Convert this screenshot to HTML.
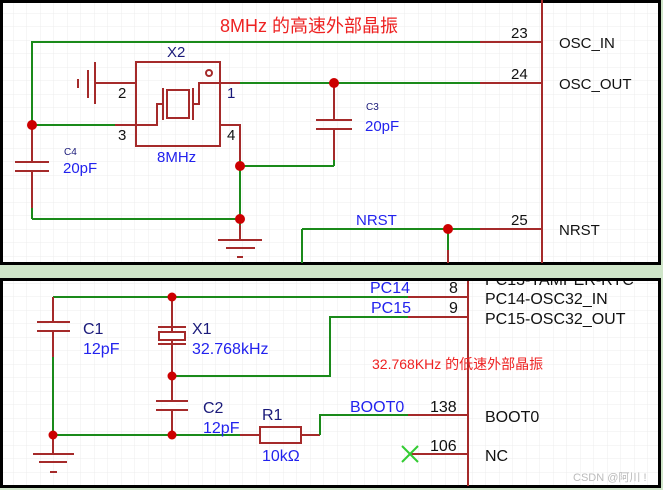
<!DOCTYPE html>
<html><head><meta charset="utf-8"><style>
body{margin:0;background:#cfe5c9;width:663px;height:490px;overflow:hidden}
svg{display:block;font-family:"Liberation Sans","Noto Sans CJK SC",sans-serif}
</style></head><body>
<svg width="663" height="490" viewBox="0 0 663 490">
<defs><pattern id="g" width="13.5" height="13.5" patternUnits="userSpaceOnUse"><path d="M13.5 0V13.5H0" fill="none" stroke="#ececec" stroke-width="1"/></pattern>
<clipPath id="bc"><rect x="3" y="281" width="655" height="204"/></clipPath></defs>
<rect x="0" y="0" width="663" height="490" fill="#cfe5c9"/>
<rect x="1.5" y="1.5" width="658" height="262" fill="#fff" stroke="#000" stroke-width="3"/>
<rect x="3" y="3" width="655" height="259" fill="url(#g)"/>
<rect x="1.5" y="279.5" width="658" height="207" fill="#fff" stroke="#000" stroke-width="3"/>
<rect x="3" y="281" width="655" height="204" fill="url(#g)"/>
<g stroke-width="2" fill="none">
<!-- top -->
<line x1="542" y1="0" x2="542" y2="263" stroke="#a52a2a"/>
<polyline points="32,219 32,42 480,42" stroke="#1a8a1a"/>
<line x1="480" y1="42" x2="542" y2="42" stroke="#a52a2a"/>
<line x1="240" y1="83" x2="480" y2="83" stroke="#1a8a1a"/>
<line x1="480" y1="83" x2="542" y2="83" stroke="#a52a2a"/>
<line x1="302" y1="229" x2="480" y2="229" stroke="#1a8a1a"/>
<line x1="302" y1="229" x2="302" y2="263" stroke="#1a8a1a"/>
<line x1="448" y1="229" x2="448" y2="250" stroke="#1a8a1a"/>
<line x1="448" y1="250" x2="448" y2="263" stroke="#a52a2a"/>
<line x1="480" y1="229" x2="542" y2="229" stroke="#a52a2a"/>
<line x1="32" y1="125" x2="115" y2="125" stroke="#1a8a1a"/>
<rect x="136" y="62" width="84" height="84" stroke="#a52a2a"/>
<line x1="95" y1="83" x2="136" y2="83" stroke="#a52a2a"/>
<line x1="95" y1="62" x2="95" y2="104" stroke="#a52a2a"/>
<line x1="88" y1="70" x2="88" y2="98" stroke="#a52a2a"/>
<line x1="78" y1="79" x2="78" y2="88" stroke="#a52a2a"/>
<line x1="115" y1="125" x2="136" y2="125" stroke="#a52a2a"/>
<line x1="220" y1="83" x2="240" y2="83" stroke="#a52a2a"/>
<polyline points="220,125 240,125 240,160" stroke="#a52a2a"/>
<polyline points="240,160 240,240" stroke="#1a8a1a"/>
<line x1="240" y1="166" x2="334" y2="166" stroke="#1a8a1a"/>
<line x1="32" y1="219" x2="240" y2="219" stroke="#1a8a1a"/>
<line x1="240" y1="225" x2="240" y2="240" stroke="#a52a2a"/>
<line x1="218" y1="240" x2="262" y2="240" stroke="#a52a2a"/>
<line x1="226" y1="248" x2="255" y2="248" stroke="#a52a2a"/>
<line x1="237" y1="257" x2="243" y2="257" stroke="#a52a2a"/>
<rect x="167" y="90" width="22" height="28" stroke="#a52a2a"/>
<line x1="163" y1="88" x2="163" y2="120" stroke="#a52a2a"/>
<line x1="193" y1="88" x2="193" y2="120" stroke="#a52a2a"/>
<polyline points="163,104 157,104 157,125 136,125" stroke="#a52a2a"/>
<polyline points="193,104 199,104 199,83 220,83" stroke="#a52a2a"/>
<circle cx="209" cy="73" r="3" stroke="#a52a2a"/>
<polyline points="334,83 334,120" stroke="#a52a2a"/>
<polyline points="334,129 334,160" stroke="#a52a2a"/>
<line x1="334" y1="160" x2="334" y2="166" stroke="#1a8a1a"/>
<line x1="316" y1="120" x2="352" y2="120" stroke="#a52a2a"/>
<line x1="316" y1="129" x2="352" y2="129" stroke="#a52a2a"/>
<line x1="32" y1="125" x2="32" y2="208" stroke="#a52a2a"/>
<line x1="15" y1="162" x2="49" y2="162" stroke="#a52a2a"/>
<line x1="15" y1="171" x2="49" y2="171" stroke="#a52a2a"/>
<rect x="28" y="163" width="8" height="7" fill="#fff" stroke="none"/>
<!-- bottom -->
<line x1="468" y1="281" x2="468" y2="486" stroke="#a52a2a"/>
<line x1="53" y1="297" x2="408" y2="297" stroke="#1a8a1a"/>
<line x1="408" y1="297" x2="468" y2="297" stroke="#a52a2a"/>
<polyline points="408,317 330,317 330,376 172,376" stroke="#1a8a1a"/>
<line x1="408" y1="317" x2="468" y2="317" stroke="#a52a2a"/>
<line x1="172" y1="297" x2="172" y2="435" stroke="#a52a2a"/>
<line x1="158" y1="327" x2="186" y2="327" stroke="#a52a2a"/>
<line x1="158" y1="344" x2="186" y2="344" stroke="#a52a2a"/>
<rect x="159" y="332" width="26" height="8" fill="#fff" stroke="#a52a2a"/>
<line x1="156" y1="401" x2="188" y2="401" stroke="#a52a2a"/>
<line x1="156" y1="410" x2="188" y2="410" stroke="#a52a2a"/>
<rect x="168" y="402" width="8" height="7" fill="#fff" stroke="none"/>
<line x1="53" y1="297" x2="53" y2="357" stroke="#a52a2a"/>
<line x1="53" y1="357" x2="53" y2="435" stroke="#1a8a1a"/>
<line x1="37" y1="322" x2="70" y2="322" stroke="#a52a2a"/>
<line x1="37" y1="331" x2="70" y2="331" stroke="#a52a2a"/>
<rect x="49" y="323" width="8" height="7" fill="#fff" stroke="none"/>
<line x1="53" y1="435" x2="53" y2="454" stroke="#a52a2a"/>
<line x1="33" y1="454" x2="74" y2="454" stroke="#a52a2a"/>
<line x1="39" y1="462" x2="67" y2="462" stroke="#a52a2a"/>
<line x1="50" y1="472" x2="57" y2="472" stroke="#a52a2a"/>
<line x1="53" y1="435" x2="240" y2="435" stroke="#1a8a1a"/>
<line x1="240" y1="435" x2="260" y2="435" stroke="#a52a2a"/>
<rect x="260" y="427" width="41" height="16" stroke="#a52a2a"/>
<line x1="301" y1="435" x2="320" y2="435" stroke="#a52a2a"/>
<polyline points="320,435 320,415 408,415" stroke="#1a8a1a"/>
<line x1="408" y1="415" x2="468" y2="415" stroke="#a52a2a"/>
<line x1="410" y1="454" x2="468" y2="454" stroke="#a52a2a"/>
<line x1="402" y1="446" x2="418" y2="462" stroke="#33cc33"/>
<line x1="418" y1="446" x2="402" y2="462" stroke="#33cc33"/>
</g>
<g fill="#cc0000">
<circle cx="32" cy="125" r="5"/><circle cx="240" cy="166" r="5"/><circle cx="240" cy="219" r="5"/>
<circle cx="334" cy="83" r="5"/><circle cx="448" cy="229" r="5"/>
<circle cx="172" cy="297" r="4.5"/><circle cx="172" cy="376" r="4.5"/><circle cx="172" cy="435" r="4.5"/><circle cx="53" cy="435" r="4.5"/>
</g>
<g font-size="15">
<text x="220" y="32" fill="#ee2222" font-size="18">8MHz 的高速外部晶振</text>
<text x="511" y="38" fill="#111">23</text>
<text x="511" y="79" fill="#111">24</text>
<text x="511" y="225" fill="#111">25</text>
<text x="559" y="48" fill="#111">OSC_IN</text>
<text x="559" y="89" fill="#111">OSC_OUT</text>
<text x="559" y="235" fill="#111">NRST</text>
<text x="356" y="225" fill="#2222ee">NRST</text>
<text x="167" y="57" fill="#1a1a7a">X2</text>
<text x="118" y="98" fill="#111">2</text>
<text x="118" y="140" fill="#111">3</text>
<text x="227" y="98" fill="#1a1a7a">1</text>
<text x="227" y="140" fill="#111">4</text>
<text x="157" y="162" fill="#2222ee">8MHz</text>
<text x="64" y="155" fill="#1a1a7a" font-size="10">C4</text>
<text x="63" y="173" fill="#2222ee">20pF</text>
<text x="366" y="110" fill="#1a1a7a" font-size="10">C3</text>
<text x="365" y="131" fill="#2222ee">20pF</text>
<g clip-path="url(#bc)"><text x="485" y="285" fill="#111" font-size="16">PC13-TAMPER-RTC</text></g>
<text x="370" y="293" fill="#2222ee" font-size="16">PC14</text>
<text x="371" y="313" fill="#2222ee" font-size="16">PC15</text>
<text x="449" y="293" fill="#111" font-size="16">8</text>
<text x="449" y="313" fill="#111" font-size="16">9</text>
<text x="485" y="304" fill="#111" font-size="16">PC14-OSC32_IN</text>
<text x="485" y="324" fill="#111" font-size="16">PC15-OSC32_OUT</text>
<text x="372" y="369" fill="#ee2222" font-size="14">32.768KHz 的低速外部晶振</text>
<text x="350" y="412" fill="#2222ee" font-size="16">BOOT0</text>
<text x="430" y="412" fill="#111" font-size="16">138</text>
<text x="485" y="422" fill="#111" font-size="16">BOOT0</text>
<text x="430" y="451" fill="#111" font-size="16">106</text>
<text x="485" y="461" fill="#111" font-size="16">NC</text>
<text x="83" y="334" fill="#1a1a7a" font-size="16">C1</text>
<text x="83" y="354" fill="#2222ee" font-size="16">12pF</text>
<text x="192" y="334" fill="#1a1a7a" font-size="16">X1</text>
<text x="192" y="354" fill="#2222ee" font-size="16">32.768kHz</text>
<text x="203" y="413" fill="#1a1a7a" font-size="16">C2</text>
<text x="203" y="433" fill="#2222ee" font-size="16">12pF</text>
<text x="262" y="420" fill="#1a1a7a" font-size="16">R1</text>
<text x="262" y="461" fill="#2222ee" font-size="16">10kΩ</text>
<text x="573" y="481" fill="#bbb" font-size="11">CSDN @阿川 !</text>
</g>
</svg>
</body></html>
